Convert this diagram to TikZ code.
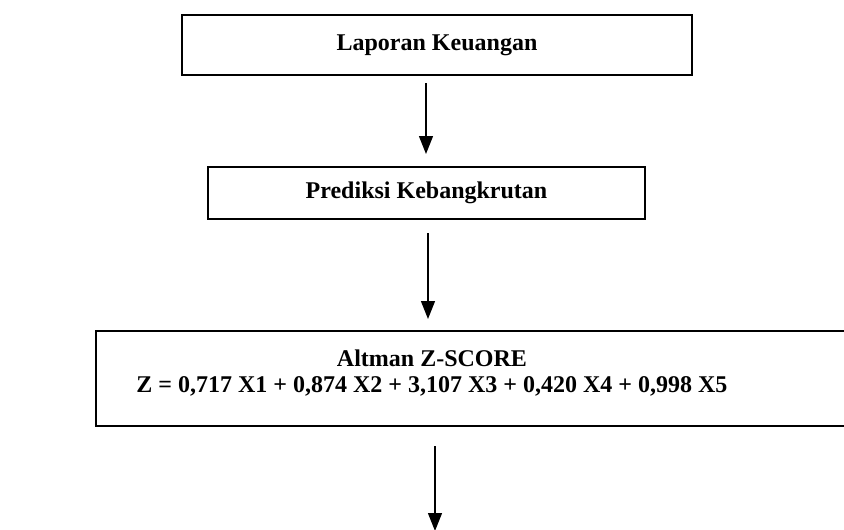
\documentclass[tikz,border=0pt]{standalone}
\usepackage{fontspec}
\setmainfont{Liberation Serif}
\usetikzlibrary{arrows.meta}
\begin{document}
\begin{tikzpicture}[x=1pt,y=-1pt,
  boxnode/.style={draw=black, line width=2pt, inner sep=0pt, font=\bfseries\fontsize{24}{28}\selectfont},
  labeltext/.style={inner sep=0pt, align=center, font=\bfseries\fontsize{24}{26}\selectfont},
  arr/.style={line width=1.4pt, -{Triangle[width=14pt,length=18pt]}}]
\useasboundingbox (0,0) rectangle (844,530);
\node[boxnode, minimum width=510pt, minimum height=60pt] (b1) at (437,45) {Laporan Keuangan};
\node[boxnode, minimum width=437pt, minimum height=52pt] (b2) at (426.5,193) {Prediksi Kebangkrutan};
\node[boxnode, minimum width=760pt, minimum height=95pt] (b3) at (476,378.5) {};
\node[labeltext] (t3) at (432,373) {Altman Z-SCORE\\Z = 0,717 X1 + 0,874 X2 + 3,107 X3 + 0,420 X4 + 0,998 X5};
\coordinate (x1) at (426,0);
\coordinate (x2) at (428,0);
\coordinate (x3) at (435,0);
\coordinate (endp) at (435,531);
\draw[arr, shorten <=7pt, shorten >=12pt] (b1.south -| x1) -- (b2.north -| x1);
\draw[arr, shorten <=13pt, shorten >=11pt] (b2.south -| x2) -- (b3.north -| x2);
\draw[arr, shorten <=19pt] (b3.south -| x3) -- (endp);
\end{tikzpicture}
\end{document}
